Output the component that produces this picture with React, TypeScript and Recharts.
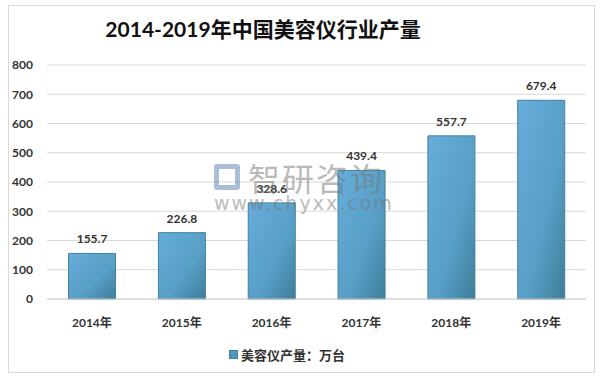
import React from "react";
import { BarChart, Bar, XAxis, YAxis, CartesianGrid, LabelList } from "recharts";

const categories = ["2014年", "2015年", "2016年", "2017年", "2018年", "2019年"];
const values = [155.7, 226.8, 328.6, 439.4, 557.7, 679.4];
const yTicks = [0, 100, 200, 300, 400, 500, 600, 700, 800];
const seriesName = "美容仪产量：万台";
const title = "2014-2019年中国美容仪行业产量";

const data = categories.map((c, i) => ({ name: c, value: values[i] }));

const FONT = "Lato, 'Noto Sans CJK SC', sans-serif";

export default function App() {
  return (
    <div style={{ position: "absolute", left: 0, top: 0, width: 600, height: 378, background: "#fff", overflow: "hidden" }}>
      <div style={{ position: "absolute", left: 8, top: 5, width: 585, height: 366, border: "1px solid #d9d9d9" }} />
      <div style={{ position: "absolute", left: 0, top: 13, width: 526, textAlign: "center", fontFamily: FONT, fontWeight: 700, fontSize: 21, color: "#111" }}>
        {title}
      </div>
      <div style={{ position: "absolute", left: 0, top: 0 }}>
        <BarChart width={600} height={378} data={data} margin={{ top: 65, right: 14, bottom: 49, left: 0 }} barCategoryGap="24%">
          <defs>
            <linearGradient id="barGrad" x1="0" y1="0" x2="1" y2="1">
              <stop offset="0%" stopColor="#66addb" />
              <stop offset="60%" stopColor="#579fc6" />
              <stop offset="100%" stopColor="#3f7d99" />
            </linearGradient>
          </defs>
          <CartesianGrid vertical={false} stroke="#d9d9d9" strokeWidth={1} />
          <XAxis
            dataKey="name"
            height={30}
            axisLine={{ stroke: "#d0d0d0" }}
            tickLine={false}
            tickSize={0}
            tickMargin={19}
            tick={{ fontFamily: FONT, fontWeight: 700, fontSize: 12, fill: "#333" }}
          />
          <YAxis
            width={47}
            domain={[0, 800]}
            ticks={yTicks}
            axisLine={false}
            tickLine={false}
            tickSize={0}
            tickMargin={14}
            tick={{ fontFamily: FONT, fontWeight: 700, fontSize: 12, fill: "#333" }}
          />
          <Bar dataKey="value" name={seriesName} fill="url(#barGrad)" stroke="#41809e" strokeWidth={1} isAnimationActive={false}>
            <LabelList dataKey="value" position="top" offset={10} style={{ fontFamily: FONT, fontWeight: 700, fontSize: 12, fill: "#333" }} formatter={(v: number) => v.toFixed(1)} />
          </Bar>
        </BarChart>
      </div>
      <div style={{ position: "absolute", left: 0, top: 345, width: 574, display: "flex", justifyContent: "center", alignItems: "center", fontFamily: FONT, fontWeight: 700, fontSize: 13, color: "#333" }}>
        <span style={{ display: "inline-block", width: 7, height: 7, background: "#4f98bd", border: "1px solid #41809e", marginRight: 3 }} />
        <span>{seriesName}</span>
      </div>
      <div style={{ position: "absolute", left: 214, top: 160, pointerEvents: "none", opacity: 0.5 }}>
        <div style={{ display: "flex", alignItems: "center" }}>
          <div style={{ width: 26, height: 26, border: "5px solid #5a7fb0", borderRadius: 3, boxSizing: "border-box", marginRight: 8 }} />
          <span style={{ fontFamily: "'Noto Sans CJK SC', sans-serif", fontSize: 32, color: "#777", lineHeight: "34px", letterSpacing: 2 }}>智研咨询</span>
        </div>
        <div style={{ fontFamily: "'DejaVu Sans', sans-serif", fontSize: 19, color: "#777", letterSpacing: 2, marginTop: -2 }}>www.chyxx.com</div>
      </div>
    </div>
  );
}
